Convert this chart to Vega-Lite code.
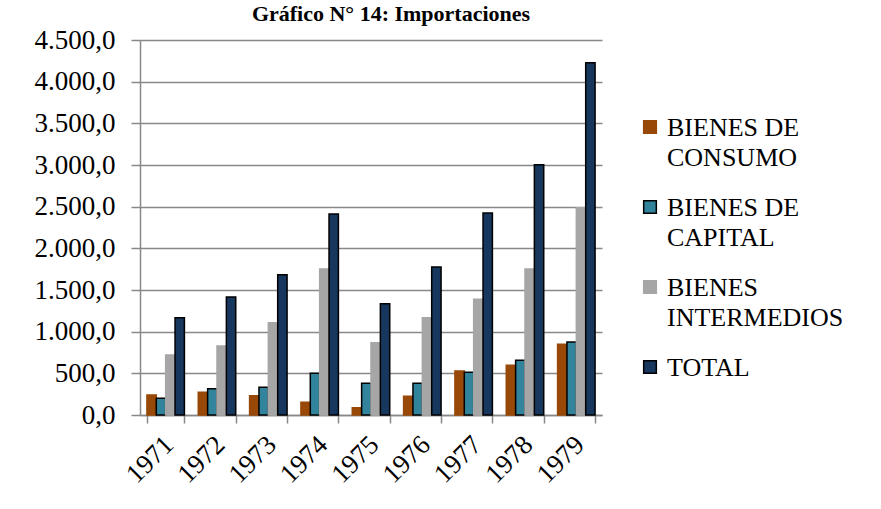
{
  "$schema": "https://vega.github.io/schema/vega-lite/v6.json",
  "width": 462,
  "height": 375,
  "autosize": {"type": "none"},
  "padding": {"left": 140, "top": 40, "right": 279, "bottom": 94},
  "background": "white",
  "title": {
    "text": "Gráfico N° 14: Importaciones",
    "font": "Liberation Serif",
    "fontSize": 22,
    "fontWeight": "bold",
    "color": "black",
    "anchor": "middle",
    "baseline": "alphabetic",
    "offset": -17,
    "dx": 20
  },
  "data": {
    "values": [
      {"anio": "1971", "serie": "BIENES DE CONSUMO", "valor": 240},
      {"anio": "1971", "serie": "BIENES DE CAPITAL", "valor": 200},
      {"anio": "1971", "serie": "BIENES INTERMEDIOS", "valor": 720},
      {"anio": "1971", "serie": "TOTAL", "valor": 1168},
      {"anio": "1972", "serie": "BIENES DE CONSUMO", "valor": 272},
      {"anio": "1972", "serie": "BIENES DE CAPITAL", "valor": 316},
      {"anio": "1972", "serie": "BIENES INTERMEDIOS", "valor": 828},
      {"anio": "1972", "serie": "TOTAL", "valor": 1416},
      {"anio": "1973", "serie": "BIENES DE CONSUMO", "valor": 232},
      {"anio": "1973", "serie": "BIENES DE CAPITAL", "valor": 332},
      {"anio": "1973", "serie": "BIENES INTERMEDIOS", "valor": 1108},
      {"anio": "1973", "serie": "TOTAL", "valor": 1684},
      {"anio": "1974", "serie": "BIENES DE CONSUMO", "valor": 152},
      {"anio": "1974", "serie": "BIENES DE CAPITAL", "valor": 500},
      {"anio": "1974", "serie": "BIENES INTERMEDIOS", "valor": 1752},
      {"anio": "1974", "serie": "TOTAL", "valor": 2412},
      {"anio": "1975", "serie": "BIENES DE CONSUMO", "valor": 88},
      {"anio": "1975", "serie": "BIENES DE CAPITAL", "valor": 380},
      {"anio": "1975", "serie": "BIENES INTERMEDIOS", "valor": 868},
      {"anio": "1975", "serie": "TOTAL", "valor": 1336},
      {"anio": "1976", "serie": "BIENES DE CONSUMO", "valor": 224},
      {"anio": "1976", "serie": "BIENES DE CAPITAL", "valor": 380},
      {"anio": "1976", "serie": "BIENES INTERMEDIOS", "valor": 1168},
      {"anio": "1976", "serie": "TOTAL", "valor": 1776},
      {"anio": "1977", "serie": "BIENES DE CONSUMO", "valor": 528},
      {"anio": "1977", "serie": "BIENES DE CAPITAL", "valor": 512},
      {"anio": "1977", "serie": "BIENES INTERMEDIOS", "valor": 1388},
      {"anio": "1977", "serie": "TOTAL", "valor": 2424},
      {"anio": "1978", "serie": "BIENES DE CONSUMO", "valor": 596},
      {"anio": "1978", "serie": "BIENES DE CAPITAL", "valor": 656},
      {"anio": "1978", "serie": "BIENES INTERMEDIOS", "valor": 1752},
      {"anio": "1978", "serie": "TOTAL", "valor": 3004},
      {"anio": "1979", "serie": "BIENES DE CONSUMO", "valor": 848},
      {"anio": "1979", "serie": "BIENES DE CAPITAL", "valor": 876},
      {"anio": "1979", "serie": "BIENES INTERMEDIOS", "valor": 2488},
      {"anio": "1979", "serie": "TOTAL", "valor": 4228}
    ]
  },
  "mark": {"type": "bar", "strokeWidth": 1.5},
  "encoding": {
    "x": {
      "field": "anio",
      "type": "nominal",
      "scale": {"paddingInner": 0.27, "paddingOuter": 0.135},
      "axis": {
        "title": null,
        "labelAngle": -45,
        "labelAlign": "right",
        "labelBaseline": "top",
        "labelFont": "Liberation Serif",
        "labelFontSize": 27,
        "labelColor": "black",
        "labelPadding": 8,
        "labelOffset": -6,
        "domainColor": "#888888",
        "domainWidth": 1.5,
        "tickColor": "#888888",
        "tickWidth": 1.5,
        "tickSize": 8,
        "tickBand": "extent",
        "grid": false
      }
    },
    "xOffset": {
      "field": "serie",
      "type": "nominal",
      "sort": ["BIENES DE CONSUMO", "BIENES DE CAPITAL", "BIENES INTERMEDIOS", "TOTAL"],
      "scale": {"paddingInner": 0, "paddingOuter": 0}
    },
    "y": {
      "field": "valor",
      "type": "quantitative",
      "scale": {"domain": [0, 4500], "nice": false},
      "axis": {
        "title": null,
        "values": [0, 500, 1000, 1500, 2000, 2500, 3000, 3500, 4000, 4500],
        "format": ",.1f",
        "labelFont": "Liberation Serif",
        "labelFontSize": 27,
        "labelColor": "black",
        "labelPadding": 16,
        "domainColor": "#888888",
        "domainWidth": 1.5,
        "tickColor": "#888888",
        "tickWidth": 1.5,
        "tickSize": 9,
        "gridColor": "#888888",
        "gridWidth": 1.5
      }
    },
    "color": {
      "field": "serie",
      "type": "nominal",
      "scale": {
        "domain": ["BIENES DE CONSUMO", "BIENES DE CAPITAL", "BIENES INTERMEDIOS", "TOTAL"],
        "range": ["#984807", "#31849B", "#A6A6A6", "#17375E"]
      },
      "legend": {
        "title": null,
        "orient": "none",
        "legendX": 497,
        "legendY": 74,
        "symbolType": "square",
        "symbolSize": 160,
        "symbolStrokeWidth": 1.5,
        "labelFont": "Liberation Serif",
        "labelFontSize": 26,
        "labelColor": "black",
        "labelLimit": 400,
        "labelOffset": 4,
        "rowPadding": 23,
        "labelBaseline": "top",
        "labelExpr": "datum.label == 'BIENES DE CONSUMO' ? ['BIENES DE', 'CONSUMO'] : datum.label == 'BIENES DE CAPITAL' ? ['BIENES DE', 'CAPITAL'] : datum.label == 'BIENES INTERMEDIOS' ? ['BIENES', 'INTERMEDIOS'] : datum.label",
        "encode": {
          "labels": {"update": {"dy": {"value": -12}, "lineHeight": {"value": 30}}}
        }
      }
    },
    "stroke": {
      "field": "serie",
      "type": "nominal",
      "scale": {
        "domain": ["BIENES DE CONSUMO", "BIENES DE CAPITAL", "BIENES INTERMEDIOS", "TOTAL"],
        "range": ["#984807", "#000000", "#A6A6A6", "#000000"]
      }
    }
  },
  "config": {
    "locale": {"number": {"decimal": ",", "thousands": ".", "grouping": [3], "currency": ["$", ""]}},
    "view": {"stroke": null}
  }
}
